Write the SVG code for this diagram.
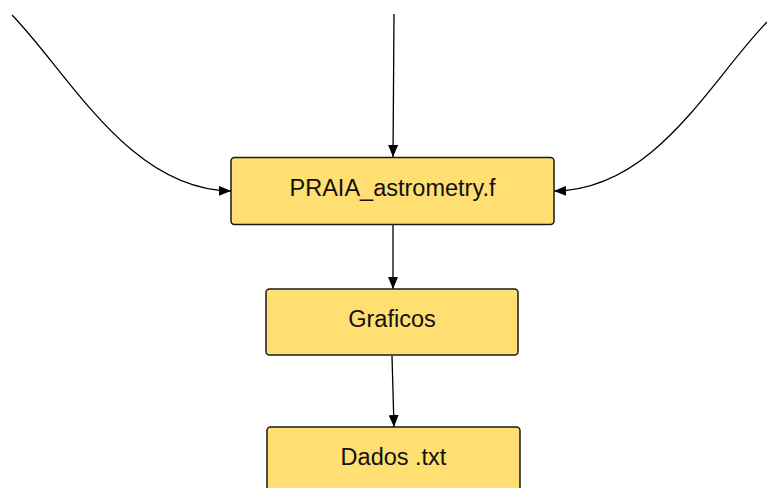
<svg xmlns="http://www.w3.org/2000/svg" width="767" height="488" viewBox="0 0 767 488">
<defs>
<marker id="arr" markerWidth="12" markerHeight="10" refX="12" refY="5" orient="auto" markerUnits="userSpaceOnUse">
<path d="M0,0 L12,5 L0,10 Z" fill="#000"/>
</marker>
<style>
.node rect{fill:#FFDF71;stroke:#1a1a1a;stroke-width:1.5}
.node text{font-family:"Liberation Sans",Arial,sans-serif;font-size:23.5px;fill:#111;text-anchor:middle}
.conn path{fill:none;stroke:#000;stroke-width:1.3;marker-end:url(#arr)}
</style>
</defs>
<rect width="767" height="488" fill="#fff"/>
<g class="conn" id="connectors">
<path d="M394,14 L393,157"/>
<path d="M12,15 C70,75 130,190 231,191"/>
<path d="M767,22 C709,82 655,190 554,191"/>
<path d="M393,224 L393,289"/>
<path d="M392,356 L394,427"/>
</g>
<g class="node" id="praia">
<rect x="231" y="157.5" width="323" height="67" rx="3.5"/>
<text x="392.5" y="196">PRAIA_astrometry.f</text>
</g>
<g class="node" id="graficos">
<rect x="266" y="289" width="252" height="66" rx="3.5"/>
<text x="392" y="327">Graficos</text>
</g>
<g class="node" id="dados">
<rect x="267" y="427" width="253" height="66" rx="3.5"/>
<text x="393.5" y="465">Dados .txt</text>
</g>
</svg>
